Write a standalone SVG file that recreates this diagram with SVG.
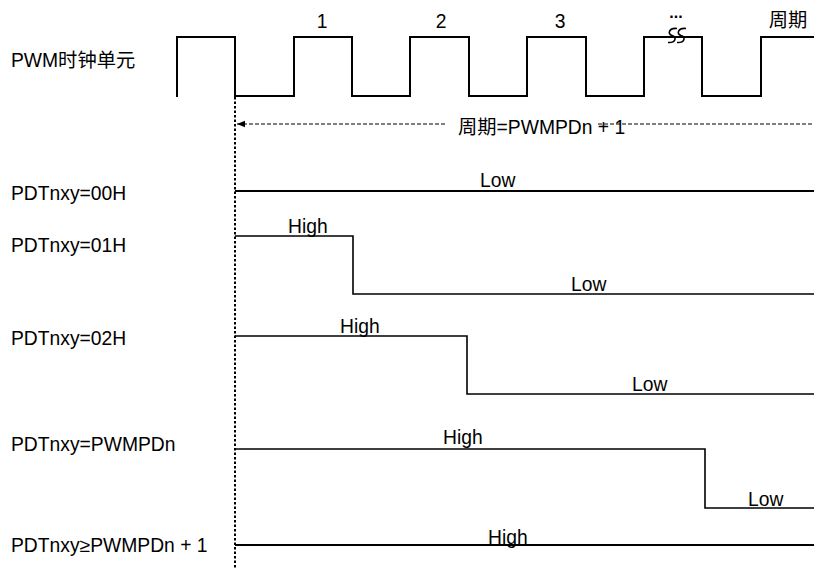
<svg xmlns="http://www.w3.org/2000/svg" width="814" height="568" viewBox="0 0 814 568">
<style>
text{font-family:"Liberation Sans","Noto Sans CJK SC",Arial,sans-serif;font-size:19.3px;fill:#000}
.sig{fill:none;stroke:#000;stroke-width:2;stroke-linejoin:miter}
.row{fill:none;stroke:#000;stroke-width:1.6}
.dot{fill:none;stroke:#000;stroke-width:2;stroke-dasharray:2.5 2}
.dash{fill:none;stroke:#000;stroke-width:1;stroke-dasharray:4 2}
</style>
<defs>
<marker id="ah" viewBox="0 0 10 10" refX="0" refY="5" markerWidth="8" markerHeight="8" orient="auto" markerUnits="userSpaceOnUse">
<path d="M0,5 L10,1 L10,9 Z" fill="#000"/>
</marker>
</defs>
<rect width="814" height="568" fill="#fff"/>
<g id="labels">
<text x="11" y="67">PWM时钟单元</text>
<text x="11" y="200">PDTnxy=00H</text>
<text x="11" y="252">PDTnxy=01H</text>
<text x="11" y="345">PDTnxy=02H</text>
<text x="11" y="451">PDTnxy=PWMPDn</text>
<text x="11" y="552">PDTnxy≥PWMPDn + 1</text>
</g>
<g id="clock">
<path class="sig" d="M177,97 V37 H235 V96 H294 V37 H352 V96 H410 V37 H469 V96 H527 V37 H586 V96 H644 V37 H702 V96 H761 V37 H814"/>
<text x="322" y="28" text-anchor="middle">1</text>
<text x="441" y="28" text-anchor="middle">2</text>
<text x="560" y="28" text-anchor="middle">3</text>
<text x="676" y="18" text-anchor="middle" style="font-size:16px;font-weight:bold">...</text>
<path d="M677,28.5 C669,27.5 667,34 672,35.5 C677,37 676,43 668,42.5 M686,28.5 C678,27.5 676,34 681,35.5 C686,37 685,43 677,42.5" fill="none" stroke="#000" stroke-width="1.6"/>
<text x="788" y="27" text-anchor="middle">周期</text>
</g>
<g id="connectors">
<line class="dot" x1="235" y1="97" x2="235" y2="568"/>
<line class="dash" x1="237" y1="124" x2="445" y2="124" marker-start="url(#ah)"/>
<line class="dash" x1="598" y1="124" x2="814" y2="124"/>
</g>
<g id="period">
<text x="458" y="134">周期=PWMPDn + 1</text>
</g>
<g id="row00">
<path class="row" d="M235,191 H814" style="stroke-width:2"/>
<text x="480" y="187">Low</text>
</g>
<g id="row01">
<path class="row" d="M235,236 H353 V294 H814"/>
<text x="288" y="233">High</text>
<text x="571" y="291">Low</text>
</g>
<g id="row02">
<path class="row" d="M235,336 H467 V394 H814"/>
<text x="340" y="333">High</text>
<text x="632" y="391">Low</text>
</g>
<g id="rowPD">
<path class="row" d="M235,449 H705 V508 H814"/>
<text x="443" y="444">High</text>
<text x="748" y="506">Low</text>
</g>
<g id="rowPD1">
<path class="row" d="M235,545 H814" style="stroke-width:2"/>
<text x="488" y="544">High</text>
</g>
</svg>
